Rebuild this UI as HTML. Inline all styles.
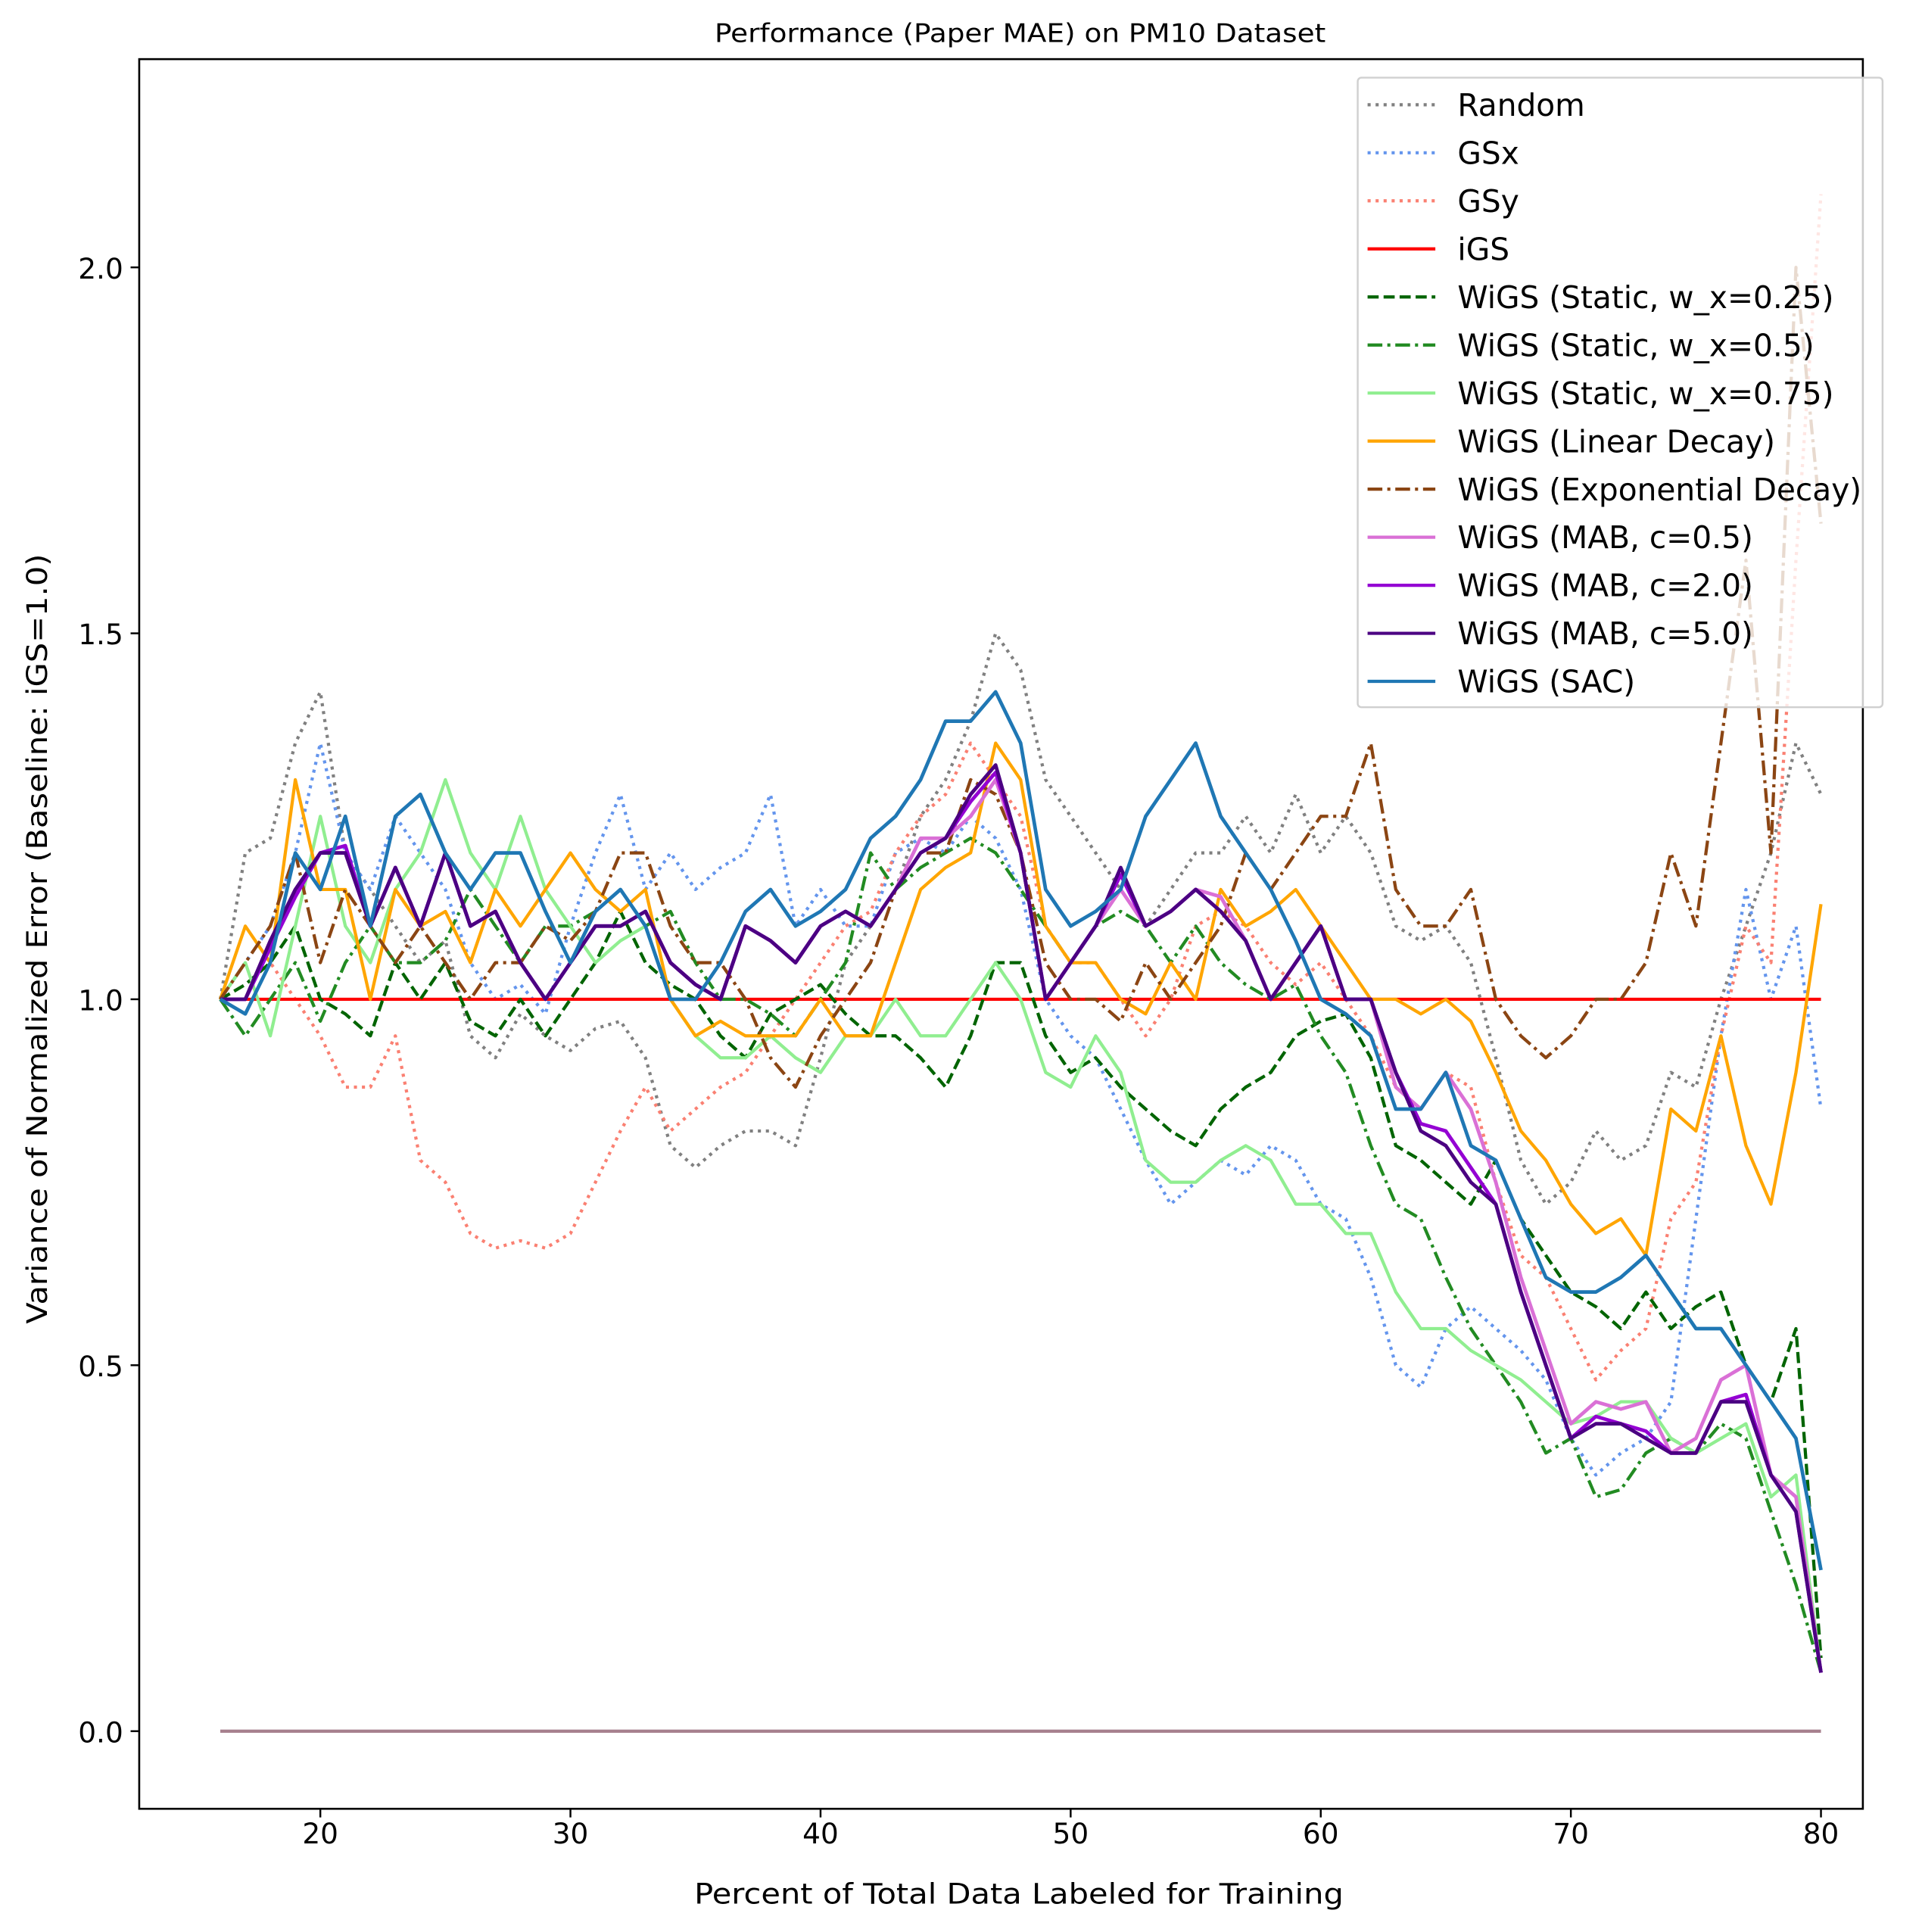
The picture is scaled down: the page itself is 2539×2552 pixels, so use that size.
<!DOCTYPE html>
<html><head><meta charset="utf-8"><style>
html,body{margin:0;padding:0;background:#fff}
svg{display:block;font-family:"DejaVu Sans","Liberation Sans",sans-serif}
</style></head><body>
<svg id="chart" width="2539" height="2552" viewBox="0 0 1560 1568" preserveAspectRatio="none" xmlns="http://www.w3.org/2000/svg">
<rect width="1560" height="1568" fill="#fff"/>
<text x="828" y="34" font-size="21" text-anchor="middle" textLength="496" lengthAdjust="spacingAndGlyphs">Performance (Paper MAE) on PM10 Dataset</text>
<g id="plot"></g>
<g id="axes"></g>
<text x="827" y="1545" font-size="23" text-anchor="middle" textLength="527" lengthAdjust="spacingAndGlyphs">Percent of Total Data Labeled for Training</text>
<text x="38" y="762" font-size="23" text-anchor="middle" textLength="625" lengthAdjust="spacingAndGlyphs" transform="rotate(-90 38 762)">Variance of Normalized Error (Baseline: iGS=1.0)</text>
<g id="legend"></g>
</svg>
<script>
const xs = [16,17,18,19,20,21,22,23,24,25,26,27,28,29,30,31,32,33,34,35,36,37,38,39,40,41,42,43,44,45,46,47,48,49,50,51,52,53,54,55,56,57,58,59,60,61,62,63,64,65,66,67,68,69,70,71,72,73,74,75,76,77,78,79,80];
const randomVals = [1.0,1.2,1.22,1.35,1.42,1.2,1.15,1.1,1.05,1.08,0.95,0.92,0.98,0.95,0.93,0.96,0.97,0.92,0.8,0.77,0.8,0.82,0.82,0.8,0.92,1.05,1.1,1.15,1.25,1.3,1.38,1.5,1.45,1.3,1.25,1.2,1.15,1.1,1.15,1.2,1.2,1.25,1.2,1.28,1.2,1.25,1.2,1.1,1.08,1.1,1.05,0.92,0.78,0.72,0.75,0.82,0.78,0.8,0.9,0.88,1.0,1.1,1.2,1.35,1.28];
const gsxVals = [1.0,1.05,1.1,1.2,1.35,1.2,1.15,1.25,1.2,1.15,1.05,1.0,1.02,0.98,1.1,1.2,1.28,1.15,1.2,1.15,1.18,1.2,1.28,1.1,1.15,1.1,1.1,1.2,1.22,1.2,1.25,1.22,1.15,1.0,0.95,0.92,0.85,0.78,0.72,0.75,0.78,0.76,0.8,0.78,0.72,0.7,0.62,0.5,0.47,0.55,0.58,0.55,0.52,0.48,0.4,0.35,0.38,0.4,0.45,0.7,0.95,1.15,1.0,1.1,0.85];
const gsyVals = [1.0,0.98,1.05,1.0,0.95,0.88,0.88,0.95,0.78,0.75,0.68,0.66,0.67,0.66,0.68,0.75,0.82,0.88,0.82,0.85,0.88,0.9,0.95,1.0,1.05,1.1,1.12,1.2,1.25,1.28,1.35,1.3,1.25,1.1,1.05,1.05,1.0,0.95,1.0,1.1,1.12,1.1,1.05,1.02,1.05,1.0,0.95,0.88,0.85,0.9,0.88,0.75,0.65,0.62,0.55,0.48,0.52,0.55,0.7,0.75,0.95,1.1,1.05,1.6,2.1];
const igsVals = xs.map(() => 1.0);
const static25Vals = [1.0,1.02,1.05,1.1,1.0,0.98,0.95,1.05,1.0,1.05,0.97,0.95,1.0,0.95,1.0,1.05,1.12,1.05,1.02,1.0,0.95,0.92,0.98,1.0,1.02,0.98,0.95,0.95,0.92,0.88,0.95,1.05,1.05,0.95,0.9,0.92,0.88,0.85,0.82,0.8,0.85,0.88,0.9,0.95,0.97,0.98,0.92,0.8,0.78,0.75,0.72,0.78,0.7,0.65,0.6,0.58,0.55,0.6,0.55,0.58,0.6,0.5,0.45,0.55,0.1];
const static50Vals = [1.0,0.95,1.0,1.05,0.97,1.05,1.1,1.05,1.05,1.08,1.15,1.1,1.05,1.1,1.1,1.12,1.15,1.1,1.12,1.05,1.0,1.0,0.98,0.95,1.0,1.05,1.2,1.15,1.18,1.2,1.22,1.2,1.15,1.1,1.05,1.1,1.12,1.1,1.05,1.1,1.05,1.02,1.0,1.02,0.95,0.9,0.8,0.72,0.7,0.62,0.55,0.5,0.45,0.38,0.4,0.32,0.33,0.38,0.4,0.38,0.42,0.4,0.3,0.2,0.08];
const static75Vals = [1.0,1.05,0.95,1.1,1.25,1.1,1.05,1.15,1.2,1.3,1.2,1.15,1.25,1.15,1.1,1.05,1.08,1.1,1.0,0.95,0.92,0.92,0.95,0.92,0.9,0.95,0.95,1.0,0.95,0.95,1.0,1.05,1.0,0.9,0.88,0.95,0.9,0.78,0.75,0.75,0.78,0.8,0.78,0.72,0.72,0.68,0.68,0.6,0.55,0.55,0.52,0.5,0.48,0.45,0.42,0.43,0.45,0.45,0.4,0.38,0.4,0.42,0.32,0.35,0.08];
const linearVals = [1.0,1.1,1.05,1.3,1.15,1.15,1.0,1.15,1.1,1.12,1.05,1.15,1.1,1.15,1.2,1.15,1.12,1.15,1.0,0.95,0.97,0.95,0.95,0.95,1.0,0.95,0.95,1.05,1.15,1.18,1.2,1.35,1.3,1.1,1.05,1.05,1.0,0.98,1.05,1.0,1.15,1.1,1.12,1.15,1.1,1.05,1.0,1.0,0.98,1.0,0.97,0.9,0.82,0.78,0.72,0.68,0.7,0.65,0.85,0.82,0.95,0.8,0.72,0.9,1.13];
const expVals = [1.0,1.05,1.1,1.2,1.05,1.15,1.1,1.05,1.1,1.05,1.0,1.05,1.05,1.1,1.08,1.12,1.2,1.2,1.1,1.05,1.05,1.0,0.92,0.88,0.95,1.0,1.05,1.15,1.2,1.2,1.3,1.28,1.2,1.05,1.0,1.0,0.97,1.05,1.0,1.05,1.1,1.2,1.15,1.2,1.25,1.25,1.35,1.15,1.1,1.1,1.15,1.0,0.95,0.92,0.95,1.0,1.0,1.05,1.2,1.1,1.35,1.6,1.2,2.0,1.65];
const mab05Vals = [1.0,1.0,1.08,1.15,1.2,1.2,1.1,1.18,1.1,1.2,1.1,1.12,1.05,1.0,1.05,1.1,1.1,1.12,1.05,1.02,1.0,1.1,1.08,1.05,1.1,1.12,1.1,1.15,1.22,1.22,1.25,1.3,1.2,1.0,1.05,1.1,1.15,1.1,1.12,1.15,1.14,1.08,1.0,1.05,1.1,1.0,1.0,0.88,0.85,0.9,0.85,0.75,0.62,0.52,0.42,0.45,0.44,0.45,0.38,0.4,0.48,0.5,0.35,0.32,0.08];
const mab2Vals = [1.0,1.0,1.07,1.14,1.2,1.21,1.1,1.18,1.1,1.2,1.1,1.12,1.05,1.0,1.05,1.1,1.1,1.12,1.05,1.02,1.0,1.1,1.08,1.05,1.1,1.12,1.1,1.15,1.2,1.22,1.27,1.31,1.2,1.0,1.05,1.1,1.17,1.1,1.12,1.15,1.12,1.08,1.0,1.05,1.1,1.0,1.0,0.9,0.83,0.82,0.77,0.72,0.6,0.5,0.4,0.43,0.42,0.41,0.38,0.38,0.45,0.46,0.35,0.3,0.08];
const mab5Vals = [1.0,1.0,1.08,1.15,1.2,1.2,1.1,1.18,1.1,1.2,1.1,1.12,1.05,1.0,1.05,1.1,1.1,1.12,1.05,1.02,1.0,1.1,1.08,1.05,1.1,1.12,1.1,1.15,1.2,1.22,1.28,1.32,1.2,1.0,1.05,1.1,1.18,1.1,1.12,1.15,1.12,1.08,1.0,1.05,1.1,1.0,1.0,0.9,0.82,0.8,0.75,0.72,0.6,0.5,0.4,0.42,0.42,0.4,0.38,0.38,0.45,0.45,0.35,0.3,0.08];
const sacVals = [1.0,0.98,1.05,1.2,1.15,1.25,1.1,1.25,1.28,1.2,1.15,1.2,1.2,1.12,1.05,1.12,1.15,1.1,1.0,1.0,1.05,1.12,1.15,1.1,1.12,1.15,1.22,1.25,1.3,1.38,1.38,1.42,1.35,1.15,1.1,1.12,1.15,1.25,1.3,1.35,1.25,1.2,1.15,1.08,1.0,0.98,0.95,0.85,0.85,0.9,0.8,0.78,0.7,0.62,0.6,0.6,0.62,0.65,0.6,0.55,0.55,0.5,0.45,0.4,0.22];
const zeroVals = xs.map(() => 0);
const seriesNames = ["Random","GSx","GSy","iGS","WiGS (Static, w_x=0.25)","WiGS (Static, w_x=0.5)","WiGS (Static, w_x=0.75)","WiGS (Linear Decay)","WiGS (Exponential Decay)","WiGS (MAB, c=0.5)","WiGS (MAB, c=2.0)","WiGS (MAB, c=5.0)","WiGS (SAC)"];
const xTicks = [20,30,40,50,60,70,80];
const yTicks = [0,0.5,1.0,1.5,2.0];
const yTickLabels = ["0.0","0.5","1.0","1.5","2.0"];

const NS = "http://www.w3.org/2000/svg";
const L = 113, R = 1512, T = 48, B = 1468;
function xScale(v){ return 260 + (v - 20) * (1478 - 260) / 60; }
function yScale(v){ return 1405 - v * 594; }

const styles = [
 {vals: randomVals, color:"#808080", dash:"2.5,4"},
 {vals: gsxVals, color:"#6495ed", dash:"2.5,4"},
 {vals: gsyVals, color:"#fa8072", dash:"2.5,4"},
 {vals: igsVals, color:"#ff0000", dash:null},
 {vals: static25Vals, color:"#006400", dash:"9,4"},
 {vals: static50Vals, color:"#228b22", dash:"12,4,2.5,4"},
 {vals: static75Vals, color:"#90ee90", dash:null},
 {vals: linearVals, color:"#ffa500", dash:null},
 {vals: expVals, color:"#8b4513", dash:"12,4,2.5,4"},
 {vals: mab05Vals, color:"#da70d6", dash:null},
 {vals: mab2Vals, color:"#9400d3", dash:null},
 {vals: mab5Vals, color:"#4b0082", dash:null},
 {vals: sacVals, color:"#1f77b4", dash:null}
];

const plot = document.getElementById("plot");
const zl = document.createElementNS(NS, "polyline");


zl.setAttribute("points", xs.map((x,i)=>xScale(x)+","+yScale(zeroVals[i])).join(" "));
zl.setAttribute("fill","none"); zl.setAttribute("stroke","#a67f8d"); zl.setAttribute("stroke-width","2.6");
plot.appendChild(zl);

styles.forEach((s, k) => {
  const p = document.createElementNS(NS, "polyline");
  
  
  p.setAttribute("points", xs.map((x,i)=>xScale(x).toFixed(1)+","+yScale(s.vals[i]).toFixed(1)).join(" "));
  p.setAttribute("fill","none");
  p.setAttribute("stroke", s.color);
  p.setAttribute("stroke-width", k >= 9 ? "2.9" : "2.6");
  p.setAttribute("stroke-linejoin","round");
  if (s.dash) p.setAttribute("stroke-dasharray", s.dash);
  plot.appendChild(p);
});

const axes = document.getElementById("axes");
const frame = document.createElementNS(NS, "rect");


frame.setAttribute("x", L); frame.setAttribute("y", T);
frame.setAttribute("width", R-L); frame.setAttribute("height", B-T);
frame.setAttribute("fill","none"); frame.setAttribute("stroke","#000"); frame.setAttribute("stroke-width","1.6");
axes.appendChild(frame);

xTicks.forEach(t => {
  const ln = document.createElementNS(NS, "line");
  
  
  ln.setAttribute("x1", xScale(t)); ln.setAttribute("x2", xScale(t));
  ln.setAttribute("y1", B); ln.setAttribute("y2", B+7);
  ln.setAttribute("stroke","#000"); ln.setAttribute("stroke-width","1.5");
  axes.appendChild(ln);
  const tx = document.createElementNS(NS, "text");
  
  
  tx.setAttribute("x", xScale(t)); tx.setAttribute("y", B+28);
  tx.setAttribute("font-size","23"); tx.setAttribute("text-anchor","middle");
  tx.textContent = String(t);
  axes.appendChild(tx);
});
yTicks.forEach((t,i) => {
  const ln = document.createElementNS(NS, "line");
  
  
  ln.setAttribute("x1", L-7); ln.setAttribute("x2", L);
  ln.setAttribute("y1", yScale(t)); ln.setAttribute("y2", yScale(t));
  ln.setAttribute("stroke","#000"); ln.setAttribute("stroke-width","1.5");
  axes.appendChild(ln);
  const tx = document.createElementNS(NS, "text");
  
  
  tx.setAttribute("x", L-13); tx.setAttribute("y", yScale(t)+9);
  tx.setAttribute("font-size","23"); tx.setAttribute("text-anchor","end");
  tx.textContent = yTickLabels[i];
  axes.appendChild(tx);
});

const legend = document.getElementById("legend");
const lb = document.createElementNS(NS, "rect");


lb.setAttribute("x", 1102); lb.setAttribute("y", 63); lb.setAttribute("width", 426); lb.setAttribute("height", 511);
lb.setAttribute("rx", 3); lb.setAttribute("fill", "rgba(255,255,255,0.8)"); lb.setAttribute("stroke", "#d0d0d0"); lb.setAttribute("stroke-width","1.5");
legend.appendChild(lb);
seriesNames.forEach((n, i) => {
  const y = 85 + i * 39;
  const ln = document.createElementNS(NS, "line");
  
  
  ln.setAttribute("x1", 1110); ln.setAttribute("x2", 1165); ln.setAttribute("y1", y); ln.setAttribute("y2", y);
  ln.setAttribute("stroke", styles[i].color); ln.setAttribute("stroke-width", "2.6");
  if (styles[i].dash) ln.setAttribute("stroke-dasharray", styles[i].dash);
  legend.appendChild(ln);
  const tx = document.createElementNS(NS, "text");
  
  
  tx.setAttribute("x", 1183); tx.setAttribute("y", y+9);
  tx.setAttribute("font-size", "25");
  tx.textContent = n;
  legend.appendChild(tx);
});
</script>
</body></html>
